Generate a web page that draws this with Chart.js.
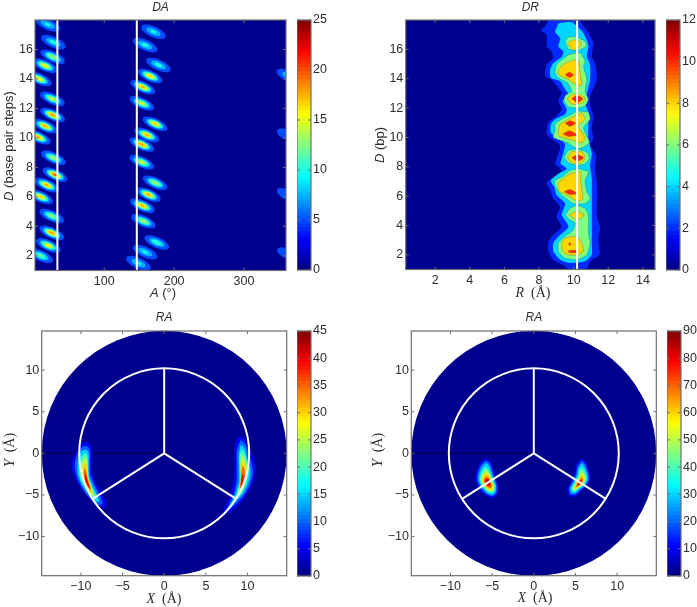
<!DOCTYPE html>
<html lang="en">
<head>
    <meta charset="UTF-8">
    <title>DA DR RA maps</title>
    <script src="https://cdnjs.cloudflare.com/ajax/libs/Chart.js/4.4.1/chart.umd.min.js"></script>
    <style>
        body { margin: 0; background: #fff; }
        #page { position: relative; width: 697px; height: 607px; overflow: hidden; }
        /* the source figure is a soft, slightly scaled scan */
        canvas { position: absolute; filter: blur(0.45px); }
    </style>
</head>
<body>
<div id="page">
    <canvas id="da" style="left:0;top:0" width="292" height="302"></canvas>
    <canvas id="daBar" style="left:297px;top:10px" width="40" height="270"></canvas>
    <canvas id="dr" style="left:360px;top:0" width="300" height="301"></canvas>
    <canvas id="drBar" style="left:666px;top:10px" width="31" height="270"></canvas>
    <canvas id="ra1" style="left:0;top:310px" width="292" height="297"></canvas>
    <canvas id="ra1Bar" style="left:297px;top:321px" width="40" height="265"></canvas>
    <canvas id="ra2" style="left:360px;top:310px" width="300" height="297"></canvas>
    <canvas id="ra2Bar" style="left:667px;top:321px" width="30" height="265"></canvas>
</div>

<script>
    // axis ticks
    const daXTicks = [100, 200, 300];
    const dTicks = [2, 4, 6, 8, 10, 12, 14, 16];
    const rTicks = [2, 4, 6, 8, 10, 12, 14];
    const xyTicks = [-10, -5, 0, 5, 10];
    const daBarTicks = [0, 5, 10, 15, 20, 25];
    const drBarTicks = [0, 2, 4, 6, 8, 10, 12];
    const ra1BarTicks = [0, 5, 10, 15, 20, 25, 30, 35, 40, 45];
    const ra2BarTicks = [0, 10, 20, 30, 40, 50, 60, 70, 80, 90];

    // DA: one spot per base pair step
    const daSpotA = [19.2, 27.2, 26.3, 15.3, 7.2, 25.8, 26.3, 15.3, 5.7, 27.2, 29.6, 17.8, 9.2, 24.9, 24.9, 20, 9.2,
        170.4, 158.5, 177.5, 165.6, 155.2, 153.8, 172.8, 160.9, 153.8, 153.8, 172.8, 163.2, 154.6, 156, 175.2, 158.5, 148.9,
        364, 364, 364, 364];
    const daSpotD = [17.7, 16.5, 15.5, 14.9, 14.0, 12.65, 11.55, 10.8, 10.05, 8.65, 7.5, 6.8, 6.0, 4.7, 3.55, 2.7, 2.0,
        17.2, 16.3, 14.95, 14.2, 13.45, 12.35, 10.95, 10.2, 9.55, 8.35, 6.95, 6.15, 5.4, 4.35, 2.9, 2.25, 1.5,
        14.2, 10.15, 6.1, 2.1];
    const daSpotPeak = [10.5, 11, 15, 17, 17, 15.5, 20, 19, 19, 15, 21, 19, 18, 14, 20, 17, 13,
        10.5, 11, 11, 18, 19, 16, 18, 19, 20, 16, 15, 19, 19, 15, 12, 10.5, 10.5,
        10, 7, 7, 6];
    const daLevels = [5, 7.5, 10, 12.5, 15, 17.5, 20];
    const daLines = [33, 146.6];

    // DR: contour outlines [R, D]
    const drLevel2 = [[
        [8.54,18.2],[8.54,18],[8.35,17.55],[8.12,17.28],[8.45,17],[8.45,16.2],[8.73,15.86],[8.83,15.4],[8.45,14.96],[8.35,14.17],[8.73,13.95],[9.02,13.5],[9.31,13.05],[9.12,12.48],[9.31,11.92],[9.02,11.47],[8.54,11.02],[8.45,10.23],[8.73,9.89],[9.22,9.44],
        [9.02,8.54],[8.93,8.2],[9.31,7.75],[8.93,7.3],[8.45,6.96],[8.64,6.4],[8.83,5.84],[9.22,5.27],[9.02,4.6],[9.31,3.92],[8.93,3.47],[8.54,2.91],[8.54,2.23],[8.83,1.67],[9.5,1.25],[9.79,0.9],
        [10.7,0.9],[10.95,1.56],[11.49,2],[11.43,3.14],[11.53,3.8],[11.34,4.71],[11.37,6.29],[11.34,6.96],[11.24,7.87],[11.3,8.77],[10.95,9.44],[11.14,9.89],[11.05,10.57],[11.14,11.47],[10.95,12.15],[10.95,12.82],[11.34,13.95],[11.24,15.07],[11.05,15.52],[11.14,16.42],[10.76,17.3],[10.37,17.9],[10.3,18.2]
    ]];
    const drLevel4 = [[
        [9.12,17.77],[8.93,17.2],[9.22,16.76],[9.12,16.2],[9.41,15.86],[9.31,15.5],[8.83,15.07],[8.64,14.62],[8.68,14.06],[9.22,13.83],[9.51,13.27],[9.7,12.93],[9.37,12.48],[9.6,11.92],[9.51,11.58],[8.93,11.24],[8.68,10.9],[8.68,10.34],[9.12,9.89],[9.51,9.55],
        [9.31,8.54],[9.25,8.2],[9.6,7.86],[9.12,7.52],[8.68,7.07],[8.87,6.63],[9.02,6.06],[9.51,5.5],[9.31,4.71],[9.7,3.92],[9.12,3.25],[8.83,2.8],[8.83,2.23],[9.22,1.67],[9.79,1.45],[10.66,1.56],[11.05,2],[11.05,2.68],[11.05,3.8],[11.05,4.71],[11.05,6.29],[11.05,7.19],[10.95,8.09],[11.05,8.88],
        [10.85,9.89],[10.85,10.79],[10.85,11.7],[10.66,12.37],[10.95,13.95],[10.95,14.96],[10.76,15.52],[10.85,16.3],[10.57,17.1],[10.22,17.55],[9.89,17.84],[9.5,17.85]
    ]];
    const drLevel6 = [
        [[9.51,16.54],[9.7,16.83],[10.18,16.83],[10.66,16.54],[10.72,16.2],[10.22,15.93],[9.7,16.02]],
        [[9.7,15.63],[10.37,15.75],[10.66,15.18],[10.57,14.85],[10.76,13.95],[10.66,13.16],[10.85,12.6],[10.66,12.15],[10.2,12],[9.7,12.1],[9.45,12.48],[9.5,12.82],[9.89,13.16],[9.64,13.72],[9.12,14.06],[8.93,14.4],[9.02,14.96]],
        [[10.18,11.8],[10.85,11.7],[10.95,11.24],[10.57,10.68],[10.76,10.1],[10.91,9.67],[10.57,9.33],[10.18,9.26],[9.6,9.67],[8.83,10],[8.93,10.45],[8.93,10.9],[9.31,11.24],[9.89,11.58]],
        [[9.45,8.65],[9.7,9.1],[10.18,9.2],[10.76,9],[10.91,8.6],[10.66,8.2],[10.18,8.09],[9.7,8.27]],
        [[10.27,7.86],[10.85,7.64],[10.66,7.07],[10.76,6.29],[10.95,5.84],[10.66,5.5],[9.99,5.5],[9.22,6.17],[8.93,6.74],[8.93,7.07],[9.31,7.3],[9.79,7.75]],
        [[9.51,4.71],[9.79,5.16],[10.18,5.34],[10.66,5.16],[10.85,4.71],[10.85,3.58],[10.95,2.8],[10.76,2],[10.18,1.67],[9.5,1.78],[9.12,2.23],[9.12,2.8],[9.5,3.25],[9.99,3.7],[10.08,4.15],[9.79,4.37]]
    ];
    const drLevel8 = [
        [[9.64,16.42],[9.99,16.65],[10.37,16.54],[10.41,16.24],[9.99,15.92]],
        [[9.51,15.07],[10.08,15.3],[10.33,15.18],[10.37,14.5],[10.47,13.6],[10.22,13.53],[9.7,13.95],[9.12,14.28],[9.12,14.62]],
        [[9.64,12.64],[9.89,12.93],[10.37,12.93],[10.66,12.64],[10.47,12.33],[9.89,12.26]],
        [[10.47,11.7],[10.66,11.24],[10.28,10.79],[10.66,10],[10.47,9.62],[9.99,9.79],[9.12,10.12],[9.12,10.45],[9.22,10.9],[9.7,11.24]],
        [[9.64,8.65],[9.89,9.03],[10.47,9.03],[10.66,8.65],[10.47,8.27],[9.89,8.27]],
        [[9.12,6.96],[9.79,7.52],[10.41,7.64],[10.41,7.07],[10.53,5.84],[10.22,5.62],[9.79,5.95],[9.12,6.4]],
        [[9.75,4.71],[10.18,4.98],[10.6,4.71],[10.22,4.37]],
        [[9.31,2.8],[9.5,3.14],[10.22,3.25],[10.47,2.8],[10.57,2.23],[10.18,1.96],[9.5,2.05],[9.31,2.46]]
    ];
    const drLevel10 = [
        [[9.52,14.26],[9.74,14.44],[9.99,14.26],[9.76,14.08]],
        [[9.89,12.64],[10.18,12.87],[10.53,12.64],[10.22,12.37]],
        [[9.51,10.97],[9.79,11.13],[10.12,10.97],[9.79,10.75]],
        [[9.37,10.23],[9.76,10.45],[10.22,10.16],[9.7,10.07]],
        [[9.89,8.6],[10.22,8.83],[10.57,8.6],[10.22,8.38]],
        [[9.45,6.29],[9.79,6.45],[10.22,6.17],[9.79,6.11]],
        [[9.7,2.68],[9.78,2.84],[9.85,2.66]],
        [[9.72,2.3],[10.18,2.3],[10.18,2.15],[9.72,2.15]]
    ];
    const drLine = 10.2;

    // RA top-left panel: contour outlines [X, Y], outer to inner, 5 apart
    const ra1LeftLobe = [
        [[-9.2,1.4],[-8.75,0.9],[-8.65,-0.5],[-8.7,-2.2],[-8.2,-3.6],[-7.4,-4.9],[-6.9,-6],[-7.2,-6.6],[-8,-6.3],[-9,-5.4],[-10,-4.2],[-10.8,-2.7],[-11.1,-1.2],[-10.6,0.2],[-9.9,1.2]],
        [[-9.3,0.9],[-8.95,0.5],[-8.9,-1],[-8.9,-2.4],[-8.4,-3.7],[-7.7,-5.1],[-7.4,-6],[-7.7,-6.25],[-8.6,-5.7],[-9.5,-4.7],[-10.4,-3.1],[-10.75,-1.4],[-10.4,0],[-9.85,0.75]],
        [[-9.4,0.45],[-9.1,0.1],[-9.05,-1.3],[-9,-2.7],[-8.5,-4],[-7.95,-5.2],[-7.8,-5.75],[-8.2,-5.8],[-9,-5],[-9.9,-3.7],[-10.4,-2.2],[-10.35,-0.9],[-10,0.2]],
        [[-9.45,0.05],[-9.2,-0.4],[-9.15,-1.6],[-9.05,-3],[-8.6,-4.2],[-8.15,-5.2],[-8.15,-5.5],[-8.6,-5.2],[-9.4,-4.2],[-10.1,-2.9],[-10.15,-1.5],[-9.9,-0.4]],
        [[-9.5,-0.45],[-9.25,-0.9],[-9.2,-2],[-9.05,-3.2],[-8.65,-4.35],[-8.4,-5.1],[-8.8,-4.95],[-9.4,-3.9],[-9.9,-2.7],[-9.9,-1.4],[-9.75,-0.8]],
        [[-9.55,-1],[-9.3,-1.5],[-9.2,-2.6],[-9,-3.5],[-8.7,-4.5],[-8.6,-4.85],[-9.1,-4.3],[-9.65,-3.3],[-9.75,-2.2],[-9.7,-1.4]],
        [[-9.55,-1.7],[-9.35,-2.2],[-9.2,-3],[-8.95,-3.8],[-8.75,-4.5],[-9.15,-4],[-9.55,-3.2],[-9.65,-2.4]],
        [[-9.5,-2.4],[-9.3,-2.9],[-9.1,-3.6],[-8.9,-4.2],[-9.2,-3.9],[-9.5,-3.2]]
    ];
    const ra1RightLobe = [
        [[9.05,2.1],[9.6,1.8],[10.15,1.1],[10.7,-0.4],[10.95,-2],[10.6,-3.6],[9.9,-5],[8.9,-6.3],[7.9,-7.1],[7.3,-7.1],[7.3,-6.3],[8,-4.8],[8.35,-3],[8.45,-1.2],[8.45,0.5],[8.6,1.6]],
        [[9.15,1.6],[9.7,1.2],[10.1,0.2],[10.5,-1.2],[10.65,-2.4],[10.3,-3.7],[9.6,-5],[8.7,-6],[7.8,-6.7],[7.6,-6.5],[8.3,-5],[8.7,-3.2],[8.7,-1.4],[8.7,0.3]],
        [[9.2,1.05],[9.7,0.5],[10,-0.7],[10.35,-1.9],[10.2,-3.2],[9.5,-4.8],[8.6,-5.7],[8,-6.1],[8.5,-5],[8.95,-3.3],[8.95,-1.5],[8.95,0]],
        [[9.25,0.45],[9.65,0],[9.95,-1.2],[10.15,-2.3],[9.9,-3.5],[9.3,-4.8],[8.6,-5.4],[8.75,-4.7],[9.1,-3.4],[9.1,-1.7],[9.05,-0.4]],
        [[9.3,-0.2],[9.6,-0.6],[9.9,-1.6],[10,-2.6],[9.7,-3.7],[9.1,-4.9],[8.9,-4.7],[9.2,-3.5],[9.2,-1.9],[9.15,-0.9]],
        [[9.3,-0.9],[9.6,-1.2],[9.8,-2.1],[9.85,-2.9],[9.5,-3.9],[9.05,-4.6],[9.1,-3.9],[9.2,-2.8],[9.15,-1.6]],
        [[9.4,-1.5],[9.65,-2],[9.7,-3],[9.35,-4],[9.1,-4.3],[9.2,-3.4],[9.25,-2.4]],
        [[9.35,-2.6],[9.5,-2.6],[9.5,-3.4],[9.2,-4.1],[9.2,-3.4]]
    ];
    const ra1Levels = [5, 10, 15, 20, 25, 30, 35, 40];

    // RA bottom-right panel: contour outlines [X, Y], outer to inner
    const ra2LeftLobe = [
        [[-5.75,-0.6],[-5.2,-0.95],[-4.95,-1.6],[-4.65,-2.8],[-4.25,-3.9],[-4.3,-4.8],[-4.9,-5.4],[-5.6,-5.15],[-6.5,-4.4],[-7,-3.3],[-6.95,-2.3],[-6.4,-1.1]],
        [[-5.75,-0.85],[-5.3,-1.15],[-5.05,-1.8],[-4.75,-2.9],[-4.4,-3.9],[-4.45,-4.7],[-4.95,-5.15],[-5.6,-4.95],[-6.35,-4.25],[-6.8,-3.3],[-6.75,-2.4],[-6.3,-1.35]],
        [[-5.75,-1.15],[-5.4,-1.45],[-5.15,-2.1],[-4.85,-3],[-4.55,-3.9],[-4.6,-4.6],[-5,-4.95],[-5.6,-4.75],[-6.2,-4.1],[-6.6,-3.3],[-6.55,-2.5],[-6.2,-1.65]],
        [[-5.75,-1.6],[-5.45,-1.9],[-5.2,-2.5],[-4.9,-3.2],[-4.65,-3.95],[-4.7,-4.5],[-5.05,-4.75],[-5.6,-4.55],[-6.1,-3.95],[-6.45,-3.3],[-6.4,-2.65],[-6.1,-2]],
        [[-5.75,-2],[-5.4,-2.3],[-5.1,-3],[-4.8,-3.9],[-4.8,-4.35],[-5.1,-4.6],[-5.6,-4.4],[-6,-3.85],[-6.3,-3.3],[-6.25,-2.7],[-6,-2.3]],
        [[-5.75,-2.4],[-5.4,-2.65],[-5.15,-3.2],[-4.9,-3.9],[-4.95,-4.25],[-5.15,-4.4],[-5.55,-4.25],[-5.95,-3.75],[-6.15,-3.3],[-6.1,-2.8]],
        [[-5.7,-2.75],[-5.35,-3],[-5.15,-3.5],[-5.05,-4],[-5.25,-4.2],[-5.55,-4.05],[-5.9,-3.6],[-6,-3.2]],
        [[-5.7,-3],[-5.4,-3.15],[-5.25,-3.6],[-5.25,-3.95],[-5.55,-3.85],[-5.8,-3.5],[-5.85,-3.2]],
        [[-5.65,-3.2],[-5.4,-3.35],[-5.35,-3.65],[-5.55,-3.7],[-5.7,-3.45]]
    ];
    const ra2RightLobe = [
        [[5.75,-0.6],[6.3,-1.1],[6.6,-2],[6.8,-3],[6.4,-3.9],[5.7,-4.5],[5,-5.2],[4.2,-5.1],[4,-4.3],[4.5,-3.3],[4.9,-2.4],[5.1,-1.3]],
        [[5.75,-0.85],[6.2,-1.3],[6.45,-2.1],[6.65,-3],[6.25,-3.85],[5.6,-4.4],[4.95,-5],[4.35,-4.9],[4.2,-4.25],[4.65,-3.3],[5.05,-2.5],[5.25,-1.5]],
        [[5.75,-1.2],[6.1,-1.6],[6.35,-2.3],[6.5,-3],[6.15,-3.8],[5.5,-4.3],[4.9,-4.8],[4.5,-4.7],[4.4,-4.2],[4.8,-3.4],[5.2,-2.6],[5.35,-1.8]],
        [[5.75,-1.65],[6.05,-2],[6.25,-2.55],[6.35,-3.05],[6.05,-3.75],[5.45,-4.2],[4.9,-4.6],[4.6,-4.5],[4.55,-4.15],[4.95,-3.4],[5.3,-2.8],[5.45,-2.15]],
        [[5.75,-2.05],[6,-2.4],[6.2,-3.05],[5.95,-3.7],[5.4,-4.1],[4.9,-4.45],[4.7,-4.3],[5.05,-3.5],[5.4,-2.9],[5.55,-2.4]],
        [[5.75,-2.45],[5.95,-2.75],[6.05,-3.1],[5.85,-3.65],[5.35,-4.05],[4.95,-4.25],[4.85,-4.15],[5.15,-3.5],[5.5,-3]],
        [[5.75,-2.85],[5.9,-3.15],[5.75,-3.6],[5.3,-3.95],[5.05,-4.05],[5.25,-3.6],[5.55,-3.15]],
        [[5.7,-3.15],[5.75,-3.4],[5.45,-3.75],[5.2,-3.95],[5.3,-3.6],[5.5,-3.3]],
        [[5.6,-3.4],[5.6,-3.55],[5.35,-3.8],[5.3,-3.65]]
    ];
    const ra2Levels = [10, 20, 30, 40, 50, 60, 70, 80, 86];

    // white guides on the RA panels
    const raDiskRadius = 14.7;
    const raRingRadius = 10.2;
    const raSpokeEnds = [[0, 10.2], [-8.55, -5.45], [8.6, -5.45]];

    const textColor = '#2e2e2e';
    const sans = '"Liberation Sans", Arial, sans-serif';
    const serif = '"Liberation Serif", "Times New Roman", serif';
    const deepBlue = 'rgb(0,0,143)';

    function jet(t) {
        const r = Math.min(4 * t - 1.5, -4 * t + 4.5);
        const g = Math.min(4 * t - 0.5, -4 * t + 3.5);
        const b = Math.min(4 * t + 0.5, -4 * t + 2.5);
        const c = v => Math.round(255 * Math.max(0, Math.min(1, v)));
        return `rgb(${c(r)},${c(g)},${c(b)})`;
    }

    function region(points, color, extra) {
        return Object.assign({
            data: points.map(p => ({x: p[0], y: p[1]})),
            showLine: true,
            fill: 'shape',
            backgroundColor: color,
            borderColor: 'rgba(0,0,0,0)',
            borderWidth: 0,
            pointRadius: 0,
            tension: 0.25
        }, extra);
    }

    function whiteLine(points, width) {
        return {
            data: points.map(p => ({x: p[0], y: p[1]})),
            showLine: true,
            fill: false,
            borderColor: '#fff',
            borderWidth: width || 2,
            pointRadius: 0
        };
    }

    // tilted spot of the DA panel, size s is 1 for the outermost contour
    function spotOutline(a, d, s) {
        const pts = [];
        for (let i = 0; i <= 24; i++) {
            const t = i / 24 * 2 * Math.PI;
            pts.push([a + s * (17.5 * Math.cos(t) + 3.3 * Math.sin(t)), d + s * (-0.38 * Math.cos(t) + 0.33 * Math.sin(t))]);
        }
        return pts;
    }

    // box and inward tick marks, MATLAB style
    const framePlugin = {
        id: 'frame',
        afterDatasetsDraw(chart) {
            const {ctx, chartArea: a, scales} = chart;
            ctx.save();
            ctx.strokeStyle = '#6e6e6e';
            ctx.lineWidth = 1;
            for (const id of Object.keys(scales)) {
                const s = scales[id];
                if (!s.options.display) continue;
                for (const tick of s.ticks) {
                    const p = s.getPixelForValue(tick.value);
                    ctx.beginPath();
                    if (s.isHorizontal()) {
                        ctx.moveTo(p, a.bottom); ctx.lineTo(p, a.bottom - 3);
                        ctx.moveTo(p, a.top); ctx.lineTo(p, a.top + 3);
                    } else {
                        ctx.moveTo(a.left, p); ctx.lineTo(a.left + 3, p);
                        ctx.moveTo(a.right, p); ctx.lineTo(a.right - 3, p);
                    }
                    ctx.stroke();
                }
            }
            ctx.lineWidth = 1.2;
            ctx.strokeRect(a.left, a.top, a.right - a.left, a.bottom - a.top);
            ctx.restore();
        }
    };

    // axis names have mixed italic and upright parts, so they are drawn piece by piece
    const axisTextPlugin = {
        id: 'axisText',
        afterDraw(chart, args, opts) {
            const ctx = chart.ctx;
            for (const label of opts.labels || []) {
                ctx.save();
                ctx.translate(label.x, label.y);
                if (label.vertical) ctx.rotate(-Math.PI / 2);
                ctx.fillStyle = textColor;
                ctx.textBaseline = 'middle';
                let total = 0;
                for (const part of label.parts) {
                    ctx.font = part[1];
                    total += ctx.measureText(part[0]).width;
                }
                let x = -total / 2;
                for (const part of label.parts) {
                    ctx.font = part[1];
                    ctx.fillText(part[0], x, 0);
                    x += ctx.measureText(part[0]).width;
                }
                ctx.restore();
            }
        }
    };

    function axis(min, max, ticks, size, padding) {
        return {
            type: 'linear',
            min: min,
            max: max,
            grid: {display: false, drawTicks: false},
            border: {display: false},
            afterBuildTicks: s => { s.ticks = ticks.map(v => ({value: v})); },
            afterFit: s => { if (s.isHorizontal()) s.height = size; else s.width = size; },
            ticks: {
                color: textColor,
                font: {family: sans, size: 12.5},
                padding: padding,
                maxRotation: 0,
                autoSkip: false,
                callback: v => String(v).replace('-', '\u2212')
            }
        };
    }

    function panel(id, title, datasets, x, y, pad, titlePad, labels) {
        return new Chart(document.getElementById(id), {
            type: 'scatter',
            // later entries paint on top, Chart.js paints the first dataset last
            data: {datasets: datasets.slice().reverse()},
            options: {
                responsive: false,
                animation: false,
                events: [],
                layout: {padding: {right: pad}},
                scales: {x: x, y: y},
                plugins: {
                    legend: {display: false},
                    tooltip: {enabled: false},
                    title: {
                        display: true,
                        text: title,
                        fullSize: false,
                        color: textColor,
                        font: {family: sans, size: 12, style: 'italic', weight: 'normal', lineHeight: 1.2},
                        padding: {top: 0, bottom: titlePad}
                    },
                    axisText: {labels: labels}
                }
            },
            plugins: [framePlugin, axisTextPlugin]
        });
    }

    function colorbar(id, max, ticks, axisWidth) {
        const steps = 64;
        const sets = [];
        for (let i = 0; i < steps; i++) {
            sets.push({
                data: [[i * max / steps, Math.min(max, (i + 1.3) * max / steps)]],
                backgroundColor: jet((i + 0.5) / steps),
                borderWidth: 0,
                grouped: false,
                barPercentage: 1,
                categoryPercentage: 1
            });
        }
        const y = axis(0, max, ticks, axisWidth, 2);
        y.position = 'right';
        return new Chart(document.getElementById(id), {
            type: 'bar',
            data: {labels: [''], datasets: sets.reverse()},
            options: {
                responsive: false,
                animation: false,
                events: [],
                layout: {padding: {top: 10, bottom: 10}},
                scales: {x: {display: false}, y: y},
                plugins: {legend: {display: false}, tooltip: {enabled: false}}
            },
            plugins: [framePlugin]
        });
    }

    function plainBackground(xMin, xMax, yMin, yMax) {
        return region([[xMin, yMin], [xMax, yMin], [xMax, yMax], [xMin, yMax], [xMin, yMin]], deepBlue, {tension: 0});
    }

    // DA
    const daSets = [plainBackground(1, 360, 1, 18)];
    daLevels.forEach((level, k) => {
        daSpotPeak.forEach((peak, i) => {
            if (peak <= level) return;
            // inner bands sit well inside the blue rim
            const s = Math.sqrt(Math.log(peak / level) / Math.log(peak / 4.9)) * (k === 0 ? 1 : 0.86);
            daSets.push(region(spotOutline(daSpotA[i], daSpotD[i], s), jet(level / 25), {tension: 0}));
        });
    });
    daLines.forEach(a => daSets.push(whiteLine([[a, 1], [a, 18]])));
    panel('da', 'DA', daSets, axis(1, 360, daXTicks, 31.5, 4), axis(1, 18, dTicks, 35, 2), 6, 5.6, [
        {x: 163, y: 293, parts: [['A', 'italic 13px ' + sans], [' (\u00b0)', '13px ' + sans]]},
        {x: 9.5, y: 146, vertical: true, parts: [['D', 'italic 13px ' + sans], [' (base pair steps)', '13px ' + sans]]}
    ]);
    colorbar('daBar', 25, daBarTicks, 26);

    // DR
    const drSets = [plainBackground(0.3, 14.7, 1, 18)];
    [[drLevel2, 2], [drLevel4, 4], [drLevel6, 6], [drLevel8, 8], [drLevel10, 10]].forEach(([shapes, level]) => {
        shapes.forEach(pts => {
            drSets.push(region(pts.concat([pts[0]]), jet(level / 12), {
                borderColor: level > 4 ? 'rgba(50,60,50,0.45)' : 'rgba(0,0,0,0)',
                borderWidth: level > 4 ? 0.6 : 0,
                tension: 0.2
            }));
        });
    });
    drSets.push(whiteLine([[drLine, 1], [drLine, 18]]));
    panel('dr', 'DR', drSets, axis(0.3, 14.7, rTicks, 31.5, 4), axis(1, 18, dTicks, 45.7, 2.4), 5, 5.6, [
        {x: 173, y: 293, parts: [['R', 'italic 14px ' + serif], ['  (\u00c5)', '14px ' + serif]]},
        {x: 20.5, y: 145, vertical: true, parts: [['D', 'italic 13px ' + sans], [' (bp)', '13px ' + sans]]}
    ]);
    colorbar('drBar', 12, drBarTicks, 17);

    // RA
    function raSets(lobes, levels, max) {
        const sets = [];
        // radius follows the x scale so both circles stay in data units
        const circle = (r, fillColor, border, width) => ({
            data: [{x: 0, y: 0}],
            pointBackgroundColor: fillColor,
            pointBorderColor: border,
            pointBorderWidth: width,
            pointRadius: c => {
                const s = c.chart.scales.x;
                return s.getPixelForValue(r) - s.getPixelForValue(0);
            },
            clip: false
        });
        sets.push(circle(raDiskRadius, deepBlue, deepBlue, 0));
        sets.push(Object.assign(whiteLine([[-raDiskRadius, 0], [0, 0]], 1), {borderColor: 'rgba(0,0,50,0.85)'}));
        levels.forEach((level, k) => {
            lobes.forEach(lobe => {
                sets.push(region(lobe[k].concat([lobe[k][0]]), jet(level / max)));
            });
        });
        sets.push(circle(raRingRadius, 'rgba(0,0,0,0)', '#fff', 2));
        raSpokeEnds.forEach(end => sets.push(whiteLine([[0, 0], end])));
        return sets;
    }

    panel('ra1', 'RA', raSets([ra1LeftLobe, ra1RightLobe], ra1Levels, 45),
        axis(-14.7, 14.7, xyTicks, 31.3, 3), axis(-14.7, 14.7, xyTicks, 41.7, 2.4), 5.3, 6.6, [
        {x: 164, y: 289, parts: [['X', 'italic 14px ' + serif], ['  (\u00c5)', '14px ' + serif]]},
        {x: 10, y: 140, vertical: true, parts: [['Y', 'italic 14px ' + serif], ['  (\u00c5)', '14px ' + serif]]}
    ]);
    colorbar('ra1Bar', 45, ra1BarTicks, 26);

    panel('ra2', 'RA', raSets([ra2LeftLobe, ra2RightLobe], ra2Levels, 90),
        axis(-14.7, 14.7, xyTicks, 31.3, 3), axis(-14.7, 14.7, xyTicks, 51.3, 2.4), 3.7, 6.6, [
        {x: 175, y: 288, parts: [['X', 'italic 14px ' + serif], ['  (\u00c5)', '14px ' + serif]]},
        {x: 18, y: 140, vertical: true, parts: [['Y', 'italic 14px ' + serif], ['  (\u00c5)', '14px ' + serif]]}
    ]);
    colorbar('ra2Bar', 90, ra2BarTicks, 16);
</script>
</body>
</html>
